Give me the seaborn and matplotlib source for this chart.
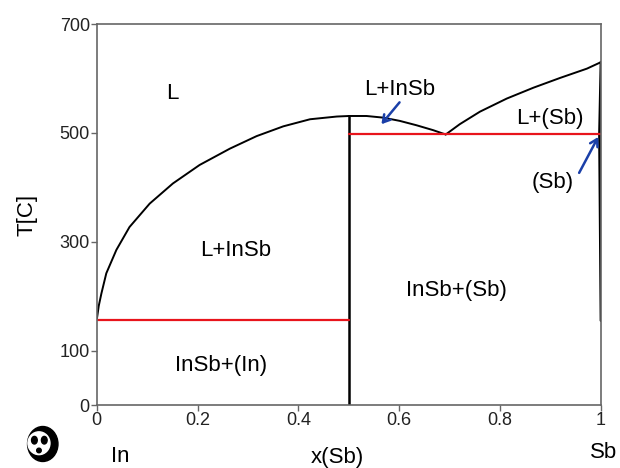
import numpy as np
import pandas as pd
import seaborn as sns
import matplotlib.pyplot as plt
from matplotlib.patches import Ellipse, Circle

# liquidus, In side up to the InSb maximum
liq_in_x = [0, 0.004, 0.0093, 0.019, 0.039, 0.065, 0.105, 0.151, 0.204,
            0.264, 0.317, 0.370, 0.423, 0.476, 0.5]
liq_in_T = [156, 182, 205, 242, 285, 327, 370, 407, 441,
            471, 494, 512, 525, 530, 531]
# liquidus, InSb down to the eutectic
liq_mid_x = [0.5, 0.535, 0.568, 0.601, 0.634, 0.667, 0.692]
liq_mid_T = [531, 531, 528, 522, 514, 505, 497]
# liquidus, eutectic up to Sb
liq_sb_x = [0.692, 0.720, 0.760, 0.813, 0.866, 0.919, 0.972, 1.0]
liq_sb_T = [497, 516, 539, 563, 583, 601, 618, 630]
# (Sb) solidus / solvus
sb_x = [1.0, 0.997, 1.0]
sb_T = [630, 497, 155]
# InSb compound line
insb_x = [0.5, 0.5]
insb_T = [0, 531]
# invariant lines
eut1_x = [0, 0.5]
eut1_T = [156, 156]
eut2_x = [0.5, 1.0]
eut2_T = [497, 497]

labels = ["L", "L+InSb", "L+InSb", "L+(Sb)", "(Sb)", "InSb+(Sb)", "InSb+(In)"]
label_x = [0.149, 0.276, 0.60, 0.899, 0.905, 0.714, 0.246]
label_T = [572, 283, 580, 527, 408, 210, 73]

sns.set_style("white")
plt.rcParams['font.family'] = ['Liberation Sans', 'DejaVu Sans']
plt.rcParams['text.color'] = 'black'
plt.rcParams['axes.labelcolor'] = 'black'
plt.rcParams['xtick.labelcolor'] = '#222222'
plt.rcParams['ytick.labelcolor'] = '#222222'

fig = plt.figure(figsize=(6.2, 4.68), dpi=100)
ax = fig.add_axes([0.156, 0.1346, 0.8134, 0.8141])

for xs, ts in [(liq_in_x, liq_in_T), (liq_mid_x, liq_mid_T), (liq_sb_x, liq_sb_T)]:
    sns.lineplot(x=xs, y=ts, ax=ax, color="black", lw=1.4, sort=False, estimator=None)
sns.lineplot(x=sb_x, y=sb_T, ax=ax, color="black", lw=2.0, sort=False, estimator=None)
sns.lineplot(x=insb_x, y=insb_T, ax=ax, color="black", lw=1.8, sort=False, estimator=None)
for xs, ts in [(eut1_x, eut1_T), (eut2_x, eut2_T)]:
    sns.lineplot(x=xs, y=ts, ax=ax, color="#e8141c", lw=1.6, sort=False, estimator=None)

for s, x, t in zip(labels, label_x, label_T):
    ax.text(x, t, s, ha="center", va="center", fontsize=16, color="black")

# arrows
ax.annotate("", xy=(0.561, 512), xytext=(0.604, 560),
            arrowprops=dict(arrowstyle="->,head_length=0.5,head_width=0.3",
                            color="#1a3fa8", lw=1.8))
ax.annotate("", xy=(0.997, 497), xytext=(0.954, 422),
            arrowprops=dict(arrowstyle="->,head_length=0.5,head_width=0.3",
                            color="#1a3fa8", lw=1.8))

ax.set_xlim(0, 1)
ax.set_ylim(0, 700)
ax.set_xticks([0, 0.2, 0.4, 0.6, 0.8, 1])
ax.set_xticklabels(["0", "0.2", "0.4", "0.6", "0.8", "1"])
ax.set_yticks([0, 100, 300, 500, 700])
ax.tick_params(axis="both", which="both", direction="out", length=4, width=1,
               color="#666666", labelsize=13, pad=1, bottom=True, left=True)
for sp in ax.spines.values():
    sp.set_color("#666666")
    sp.set_linewidth(1.2)
ax.set_ylabel("T[C]", fontsize=16, labelpad=16)
ax.set_xlabel("")

fig.text(337 / 620, 1 - 458 / 468, "x(Sb)", ha="center", va="center", fontsize=16)
fig.text(120 / 620, 1 - 457 / 468, "In", ha="center", va="center", fontsize=16)
fig.text(604 / 620, 1 - 452 / 468, "Sb", ha="center", va="center", fontsize=16)

# small panda logo
pa = fig.add_axes([22 / 620, 1 - 463 / 468, 40 / 620, 38 / 468])
pa.set_xlim(0, 1)
pa.set_ylim(0, 1)
pa.set_aspect("equal")
pa.axis("off")
pa.add_patch(Ellipse((0.52, 0.5), 0.8, 0.92, color="black"))
pa.add_patch(Ellipse((0.42, 0.52), 0.58, 0.6, color="white"))
pa.add_patch(Ellipse((0.3, 0.6), 0.15, 0.2, color="black"))
pa.add_patch(Ellipse((0.56, 0.6), 0.15, 0.2, color="black"))
pa.add_patch(Circle((0.42, 0.33), 0.06, color="black"))

fig.savefig("out.png", dpi=100)
